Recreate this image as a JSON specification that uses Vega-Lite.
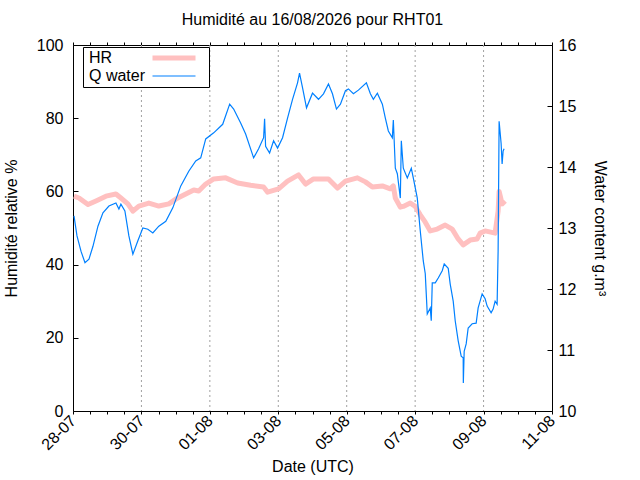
{
  "$schema": "https://vega.github.io/schema/vega-lite/v6.json",
  "width": 479,
  "height": 366,
  "autosize": {"type": "none"},
  "padding": {"left": 73, "top": 45, "right": 88, "bottom": 69},
  "background": "white",
  "title": {"text": "Humidité au 16/08/2026 pour RHT01", "fontSize": 16, "fontWeight": "normal", "color": "black", "offset": 9},
  "datasets": {
    "grid": [
      {"d": "2026-07-30T00:00"}, {"d": "2026-08-01T00:00"}, {"d": "2026-08-03T00:00"},
      {"d": "2026-08-05T00:00"}, {"d": "2026-08-07T00:00"}, {"d": "2026-08-09T00:00"}
    ],
    "hr": [
      {"t": "2026-07-28T00:42", "hr": 58.7}, {"t": "2026-07-28T04:12", "hr": 58.2},
      {"t": "2026-07-28T10:30", "hr": 56.4}, {"t": "2026-07-28T16:06", "hr": 57.4},
      {"t": "2026-07-28T23:06", "hr": 58.7}, {"t": "2026-07-29T06:06", "hr": 59.3},
      {"t": "2026-07-29T09:36", "hr": 58.2}, {"t": "2026-07-29T14:30", "hr": 56.6},
      {"t": "2026-07-29T18:00", "hr": 54.6}, {"t": "2026-07-29T22:12", "hr": 56.0},
      {"t": "2026-07-30T05:12", "hr": 56.8}, {"t": "2026-07-30T12:12", "hr": 56.0},
      {"t": "2026-07-30T19:12", "hr": 56.6}, {"t": "2026-07-31T00:06", "hr": 57.9},
      {"t": "2026-07-31T07:06", "hr": 59.3}, {"t": "2026-07-31T12:42", "hr": 60.4},
      {"t": "2026-07-31T16:12", "hr": 60.1}, {"t": "2026-07-31T21:06", "hr": 62.0},
      {"t": "2026-08-01T02:42", "hr": 63.4}, {"t": "2026-08-01T11:06", "hr": 63.7},
      {"t": "2026-08-01T19:30", "hr": 62.3}, {"t": "2026-08-02T04:36", "hr": 61.7},
      {"t": "2026-08-02T13:42", "hr": 61.2}, {"t": "2026-08-02T16:30", "hr": 59.8},
      {"t": "2026-08-03T00:12", "hr": 60.7}, {"t": "2026-08-03T06:30", "hr": 62.8},
      {"t": "2026-08-03T14:12", "hr": 64.5}, {"t": "2026-08-03T19:06", "hr": 62.0},
      {"t": "2026-08-04T00:42", "hr": 63.4}, {"t": "2026-08-04T11:12", "hr": 63.4},
      {"t": "2026-08-04T17:30", "hr": 60.9}, {"t": "2026-08-04T23:06", "hr": 62.8},
      {"t": "2026-08-05T07:30", "hr": 63.7}, {"t": "2026-08-05T13:06", "hr": 62.6},
      {"t": "2026-08-05T18:00", "hr": 61.2}, {"t": "2026-08-06T01:00", "hr": 61.5},
      {"t": "2026-08-06T06:36", "hr": 60.7}, {"t": "2026-08-06T08:42", "hr": 61.5},
      {"t": "2026-08-06T10:06", "hr": 58.2}, {"t": "2026-08-06T13:36", "hr": 55.7},
      {"t": "2026-08-06T15:42", "hr": 55.9}, {"t": "2026-08-06T20:36", "hr": 56.8},
      {"t": "2026-08-07T00:06", "hr": 55.9}, {"t": "2026-08-07T03:36", "hr": 53.6},
      {"t": "2026-08-07T07:06", "hr": 51.6}, {"t": "2026-08-07T10:36", "hr": 49.2},
      {"t": "2026-08-07T15:30", "hr": 49.7}, {"t": "2026-08-07T21:06", "hr": 50.8},
      {"t": "2026-08-08T02:00", "hr": 49.7}, {"t": "2026-08-08T06:12", "hr": 47.0},
      {"t": "2026-08-08T09:42", "hr": 45.4}, {"t": "2026-08-08T14:36", "hr": 46.7},
      {"t": "2026-08-08T19:30", "hr": 47.0}, {"t": "2026-08-08T21:36", "hr": 48.6},
      {"t": "2026-08-09T01:06", "hr": 49.2}, {"t": "2026-08-09T08:06", "hr": 48.6},
      {"t": "2026-08-09T10:12", "hr": 54.6}, {"t": "2026-08-09T10:54", "hr": 60.0},
      {"t": "2026-08-09T13:00", "hr": 56.6}, {"t": "2026-08-09T15:06", "hr": 57.4}
    ],
    "qw": [
      {"t": "2026-07-28T00:42", "q": 13.20}, {"t": "2026-07-28T02:48", "q": 12.87},
      {"t": "2026-07-28T05:36", "q": 12.62}, {"t": "2026-07-28T08:24", "q": 12.43},
      {"t": "2026-07-28T11:12", "q": 12.49}, {"t": "2026-07-28T14:00", "q": 12.70},
      {"t": "2026-07-28T17:30", "q": 13.03}, {"t": "2026-07-28T21:00", "q": 13.25},
      {"t": "2026-07-29T01:12", "q": 13.36}, {"t": "2026-07-29T06:06", "q": 13.41},
      {"t": "2026-07-29T08:12", "q": 13.31}, {"t": "2026-07-29T09:36", "q": 13.39},
      {"t": "2026-07-29T12:24", "q": 13.28}, {"t": "2026-07-29T15:12", "q": 12.87},
      {"t": "2026-07-29T18:00", "q": 12.57}, {"t": "2026-07-29T21:30", "q": 12.79},
      {"t": "2026-07-30T01:00", "q": 13.00}, {"t": "2026-07-30T04:30", "q": 12.98},
      {"t": "2026-07-30T08:00", "q": 12.92}, {"t": "2026-07-30T12:12", "q": 13.03},
      {"t": "2026-07-30T17:06", "q": 13.11}, {"t": "2026-07-30T22:00", "q": 13.33},
      {"t": "2026-07-31T03:36", "q": 13.69}, {"t": "2026-07-31T09:12", "q": 13.93},
      {"t": "2026-07-31T14:06", "q": 14.10}, {"t": "2026-07-31T17:36", "q": 14.15},
      {"t": "2026-07-31T21:06", "q": 14.46}, {"t": "2026-08-01T02:42", "q": 14.56},
      {"t": "2026-08-01T09:00", "q": 14.70}, {"t": "2026-08-01T13:54", "q": 15.03},
      {"t": "2026-08-01T16:42", "q": 14.95}, {"t": "2026-08-01T21:36", "q": 14.72},
      {"t": "2026-08-02T01:06", "q": 14.54}, {"t": "2026-08-02T06:42", "q": 14.15},
      {"t": "2026-08-02T10:12", "q": 14.30}, {"t": "2026-08-02T13:42", "q": 14.48},
      {"t": "2026-08-02T14:24", "q": 14.79}, {"t": "2026-08-02T15:06", "q": 14.34},
      {"t": "2026-08-02T17:54", "q": 14.23}, {"t": "2026-08-02T20:42", "q": 14.43},
      {"t": "2026-08-02T23:30", "q": 14.31}, {"t": "2026-08-03T03:00", "q": 14.48},
      {"t": "2026-08-03T06:30", "q": 14.80}, {"t": "2026-08-03T10:00", "q": 15.11},
      {"t": "2026-08-03T13:30", "q": 15.38}, {"t": "2026-08-03T14:54", "q": 15.54},
      {"t": "2026-08-03T17:00", "q": 15.30}, {"t": "2026-08-03T19:48", "q": 14.97},
      {"t": "2026-08-04T00:00", "q": 15.21}, {"t": "2026-08-04T04:12", "q": 15.11},
      {"t": "2026-08-04T07:42", "q": 15.20}, {"t": "2026-08-04T11:12", "q": 15.36},
      {"t": "2026-08-04T14:00", "q": 15.20}, {"t": "2026-08-04T16:48", "q": 14.95},
      {"t": "2026-08-04T19:36", "q": 15.03}, {"t": "2026-08-04T23:06", "q": 15.25},
      {"t": "2026-08-05T01:12", "q": 15.28}, {"t": "2026-08-05T04:42", "q": 15.20},
      {"t": "2026-08-05T08:12", "q": 15.26}, {"t": "2026-08-05T13:48", "q": 15.38},
      {"t": "2026-08-05T16:36", "q": 15.20}, {"t": "2026-08-05T18:42", "q": 15.11},
      {"t": "2026-08-05T21:30", "q": 15.21}, {"t": "2026-08-06T01:00", "q": 15.03},
      {"t": "2026-08-06T03:06", "q": 14.80}, {"t": "2026-08-06T05:12", "q": 14.59},
      {"t": "2026-08-06T08:00", "q": 14.48}, {"t": "2026-08-06T08:42", "q": 14.77},
      {"t": "2026-08-06T10:06", "q": 13.98}, {"t": "2026-08-06T11:30", "q": 13.89},
      {"t": "2026-08-06T13:36", "q": 13.49}, {"t": "2026-08-06T14:18", "q": 14.43},
      {"t": "2026-08-06T15:42", "q": 13.98}, {"t": "2026-08-06T18:30", "q": 13.82},
      {"t": "2026-08-06T21:18", "q": 13.98}, {"t": "2026-08-06T22:42", "q": 13.82},
      {"t": "2026-08-07T01:30", "q": 13.49}, {"t": "2026-08-07T03:36", "q": 12.95},
      {"t": "2026-08-07T05:42", "q": 12.46}, {"t": "2026-08-07T07:06", "q": 12.25},
      {"t": "2026-08-07T07:48", "q": 11.92}, {"t": "2026-08-07T08:30", "q": 11.59},
      {"t": "2026-08-07T10:36", "q": 11.69}, {"t": "2026-08-07T11:18", "q": 11.48},
      {"t": "2026-08-07T12:00", "q": 12.10}, {"t": "2026-08-07T14:06", "q": 12.10},
      {"t": "2026-08-07T16:12", "q": 12.18}, {"t": "2026-08-07T19:00", "q": 12.30},
      {"t": "2026-08-07T20:24", "q": 12.41}, {"t": "2026-08-07T23:12", "q": 12.34},
      {"t": "2026-08-08T00:36", "q": 12.08}, {"t": "2026-08-08T02:42", "q": 11.80},
      {"t": "2026-08-08T04:06", "q": 11.48}, {"t": "2026-08-08T06:12", "q": 11.15},
      {"t": "2026-08-08T08:18", "q": 10.90}, {"t": "2026-08-08T09:42", "q": 10.87},
      {"t": "2026-08-08T09:48", "q": 10.46}, {"t": "2026-08-08T10:24", "q": 10.98},
      {"t": "2026-08-08T11:48", "q": 11.10}, {"t": "2026-08-08T13:12", "q": 11.36},
      {"t": "2026-08-08T16:00", "q": 11.43}, {"t": "2026-08-08T18:48", "q": 11.44},
      {"t": "2026-08-08T20:12", "q": 11.69}, {"t": "2026-08-08T23:00", "q": 11.92},
      {"t": "2026-08-09T01:06", "q": 11.84}, {"t": "2026-08-09T02:30", "q": 11.72},
      {"t": "2026-08-09T05:18", "q": 11.61}, {"t": "2026-08-09T06:42", "q": 11.67},
      {"t": "2026-08-09T08:06", "q": 11.80}, {"t": "2026-08-09T09:30", "q": 11.75},
      {"t": "2026-08-09T10:12", "q": 12.62}, {"t": "2026-08-09T10:54", "q": 14.75},
      {"t": "2026-08-09T12:18", "q": 14.39}, {"t": "2026-08-09T13:00", "q": 14.05},
      {"t": "2026-08-09T13:42", "q": 14.26}, {"t": "2026-08-09T14:24", "q": 14.30}
    ]
  },
  "layer": [
    {
      "data": {"name": "grid"},
      "mark": {"type": "rule", "color": "#a0a0a0", "strokeDash": [2, 3], "strokeWidth": 1},
      "encoding": {
        "x": {"field": "d", "type": "temporal", "axis": null}
      }
    },
    {
      "data": {"name": "hr"},
      "mark": {"type": "line", "strokeWidth": 5, "strokeJoin": "round"},
      "encoding": {
        "x": {
          "field": "t", "type": "temporal",
          "scale": {"domain": [{"year": 2026, "month": 7, "date": 28}, {"year": 2026, "month": 8, "date": 11}], "nice": false},
          "axis": {
            "orient": "bottom", "title": "Date (UTC)",
            "values": [
              {"year": 2026, "month": 7, "date": 28, "hours": 0}, {"year": 2026, "month": 7, "date": 28, "hours": 12},
              {"year": 2026, "month": 7, "date": 29, "hours": 0}, {"year": 2026, "month": 7, "date": 29, "hours": 12},
              {"year": 2026, "month": 7, "date": 30, "hours": 0}, {"year": 2026, "month": 7, "date": 30, "hours": 12},
              {"year": 2026, "month": 7, "date": 31, "hours": 0}, {"year": 2026, "month": 7, "date": 31, "hours": 12},
              {"year": 2026, "month": 8, "date": 1, "hours": 0}, {"year": 2026, "month": 8, "date": 1, "hours": 12},
              {"year": 2026, "month": 8, "date": 2, "hours": 0}, {"year": 2026, "month": 8, "date": 2, "hours": 12},
              {"year": 2026, "month": 8, "date": 3, "hours": 0}, {"year": 2026, "month": 8, "date": 3, "hours": 12},
              {"year": 2026, "month": 8, "date": 4, "hours": 0}, {"year": 2026, "month": 8, "date": 4, "hours": 12},
              {"year": 2026, "month": 8, "date": 5, "hours": 0}, {"year": 2026, "month": 8, "date": 5, "hours": 12},
              {"year": 2026, "month": 8, "date": 6, "hours": 0}, {"year": 2026, "month": 8, "date": 6, "hours": 12},
              {"year": 2026, "month": 8, "date": 7, "hours": 0}, {"year": 2026, "month": 8, "date": 7, "hours": 12},
              {"year": 2026, "month": 8, "date": 8, "hours": 0}, {"year": 2026, "month": 8, "date": 8, "hours": 12},
              {"year": 2026, "month": 8, "date": 9, "hours": 0}, {"year": 2026, "month": 8, "date": 9, "hours": 12},
              {"year": 2026, "month": 8, "date": 10, "hours": 0}, {"year": 2026, "month": 8, "date": 10, "hours": 12},
              {"year": 2026, "month": 8, "date": 11, "hours": 0}
            ],
            "labelExpr": "hours(datum.value) == 0 && ((month(datum.value) == 6 && date(datum.value) % 2 == 0) || (month(datum.value) == 7 && date(datum.value) % 2 == 1)) ? timeFormat(datum.value, '%d-%m') : ''",
            "labelAngle": -45, "labelAlign": "right", "labelBaseline": "middle", "labelPadding": 4,
            "tickSize": 3, "grid": false, "labelFlush": false, "labelOverlap": false, "titlePadding": 6
          }
        },
        "y": {
          "field": "hr", "type": "quantitative",
          "scale": {"domain": [0, 100], "nice": false},
          "axis": {"orient": "left", "title": "Humidité relative %", "values": [0, 20, 40, 60, 80, 100], "tickSize": -5, "labelPadding": 15, "grid": false, "titlePadding": 17}
        },
        "color": {
          "datum": "HR", "type": "nominal",
          "scale": {"domain": ["HR", "Q water"], "range": ["#ffc0c0", "#0080ff"]},
          "legend": {
            "title": null, "orient": "none", "legendX": 10, "legendY": 2,
            "symbolType": "stroke", "symbolSize": 1849, "symbolOffset": 80, "labelOffset": -93,
            "labelAlign": "left", "rowPadding": -5, "padding": 3,
            "strokeColor": "black", "fillColor": "white", "labelFontSize": 16, "labelColor": "black", "labelLimit": 0,
            "encode": {"symbols": {"update": {"stroke": {"scale": "color", "field": "value"}, "strokeWidth": {"signal": "datum.value === 'HR' ? 5 : 1.2"}, "opacity": {"value": 1}}}}
          }
        }
      }
    },
    {
      "data": {"name": "qw"},
      "mark": {"type": "line", "strokeWidth": 1.2},
      "encoding": {
        "x": {
          "field": "t", "type": "temporal",
          "axis": {
            "orient": "top", "title": null, "labels": false, "grid": false, "tickSize": 3,
            "values": [
              {"year": 2026, "month": 7, "date": 28, "hours": 0}, {"year": 2026, "month": 7, "date": 28, "hours": 12},
              {"year": 2026, "month": 7, "date": 29, "hours": 0}, {"year": 2026, "month": 7, "date": 29, "hours": 12},
              {"year": 2026, "month": 7, "date": 30, "hours": 0}, {"year": 2026, "month": 7, "date": 30, "hours": 12},
              {"year": 2026, "month": 7, "date": 31, "hours": 0}, {"year": 2026, "month": 7, "date": 31, "hours": 12},
              {"year": 2026, "month": 8, "date": 1, "hours": 0}, {"year": 2026, "month": 8, "date": 1, "hours": 12},
              {"year": 2026, "month": 8, "date": 2, "hours": 0}, {"year": 2026, "month": 8, "date": 2, "hours": 12},
              {"year": 2026, "month": 8, "date": 3, "hours": 0}, {"year": 2026, "month": 8, "date": 3, "hours": 12},
              {"year": 2026, "month": 8, "date": 4, "hours": 0}, {"year": 2026, "month": 8, "date": 4, "hours": 12},
              {"year": 2026, "month": 8, "date": 5, "hours": 0}, {"year": 2026, "month": 8, "date": 5, "hours": 12},
              {"year": 2026, "month": 8, "date": 6, "hours": 0}, {"year": 2026, "month": 8, "date": 6, "hours": 12},
              {"year": 2026, "month": 8, "date": 7, "hours": 0}, {"year": 2026, "month": 8, "date": 7, "hours": 12},
              {"year": 2026, "month": 8, "date": 8, "hours": 0}, {"year": 2026, "month": 8, "date": 8, "hours": 12},
              {"year": 2026, "month": 8, "date": 9, "hours": 0}, {"year": 2026, "month": 8, "date": 9, "hours": 12},
              {"year": 2026, "month": 8, "date": 10, "hours": 0}, {"year": 2026, "month": 8, "date": 10, "hours": 12},
              {"year": 2026, "month": 8, "date": 11, "hours": 0}
            ]
          }
        },
        "y": {
          "field": "q", "type": "quantitative",
          "scale": {"domain": [10, 16], "nice": false},
          "axis": {"orient": "right", "title": "Water content g.m³", "values": [10, 11, 12, 13, 14, 15, 16], "tickSize": -5, "labelPadding": 11, "grid": false, "titlePadding": 16}
        },
        "color": {"datum": "Q water", "type": "nominal"}
      }
    }
  ],
  "resolve": {"scale": {"y": "independent"}, "axis": {"x": "independent"}},
  "config": {
    "font": "Liberation Sans",
    "view": {"stroke": "black", "strokeWidth": 1},
    "axis": {"domain": false, "labelFontSize": 16, "titleFontSize": 16, "titleFontWeight": "normal", "labelColor": "black", "titleColor": "black", "tickColor": "black"}
  }
}
